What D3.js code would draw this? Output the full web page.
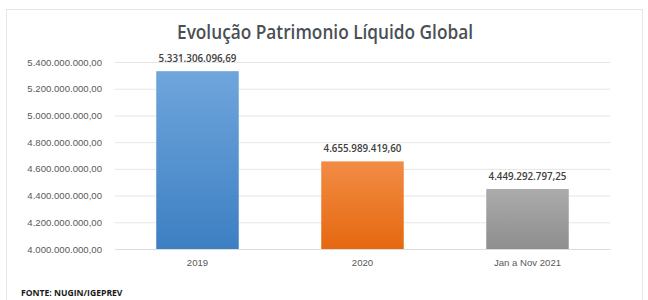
<!DOCTYPE html>
<html>
<head>
<meta charset="utf-8">
<script src="https://cdn.jsdelivr.net/npm/d3@7"></script>
<style>
  body { margin: 0; background: #fff; }
  svg { display: block; font-family: "Open Sans", sans-serif; }
</style>
</head>
<body>
<div id="chart"></div>
<script>
const categories = ["2019", "2020", "Jan a Nov 2021"];
const values = [5331306096.69, 4655989419.60, 4449292797.25];
const valueLabels = ["5.331.306.096,69", "4.655.989.419,60", "4.449.292.797,25"];
const yTicks = [4000000000, 4200000000, 4400000000, 4600000000, 4800000000, 5000000000, 5200000000, 5400000000];
const colors = [
  ["#6fa6dc", "#3d7fc3"],
  ["#f28c45", "#e5680f"],
  ["#ababab", "#8e8e8e"]
];

const width = 648, height = 300;
const margin = { top: 62, right: 38, bottom: 51, left: 115 };

const svg = d3.select("#chart").append("svg")
  .attr("width", width)
  .attr("height", height);

// gradients for bars
const defs = svg.append("defs");
colors.forEach((c, i) => {
  const g = defs.append("linearGradient")
    .attr("id", "grad" + i)
    .attr("x1", 0).attr("y1", 0).attr("x2", 0).attr("y2", 1);
  g.append("stop").attr("offset", "0%").attr("stop-color", c[0]);
  g.append("stop").attr("offset", "100%").attr("stop-color", c[1]);
});

// frame
svg.append("rect")
  .attr("x", 6.5).attr("y", 9.5)
  .attr("width", 636).attr("height", 300)
  .attr("fill", "none")
  .attr("stroke", "#e6e6e6");

const x = d3.scaleBand()
  .domain(categories)
  .range([margin.left, width - margin.right])
  .paddingInner(0.5)
  .paddingOuter(0.25);

const y = d3.scaleLinear()
  .domain([4000000000, 5400000000])
  .range([height - margin.bottom, margin.top]);

const fmt = d => d3.format(",.2f")(d).replace(/,/g, "#").replace(".", ",").replace(/#/g, ".");

// y axis with gridlines
const yAxis = svg.append("g")
  .attr("transform", `translate(${margin.left},0)`)
  .call(d3.axisLeft(y).tickValues(yTicks).tickFormat(fmt)
    .tickSize(-(width - margin.left - margin.right)).tickPadding(13));
yAxis.select(".domain").remove();
yAxis.selectAll(".tick line").attr("stroke", "#e6e6e6");
yAxis.selectAll(".tick text")
  .attr("fill", "#595959")
  .attr("font-size", "9.6px");

// x axis
const xAxis = svg.append("g")
  .attr("transform", `translate(0,${height - margin.bottom})`)
  .call(d3.axisBottom(x).tickSize(0).tickPadding(10));
xAxis.select(".domain").attr("stroke", "#dcdcdc");
xAxis.selectAll(".tick text")
  .attr("fill", "#595959")
  .attr("font-size", "9.6px");

// bars
svg.selectAll(".bar")
  .data(values)
  .enter()
  .append("rect")
  .attr("x", (d, i) => x(categories[i]))
  .attr("y", d => y(d))
  .attr("width", x.bandwidth())
  .attr("height", d => y(4000000000) - y(d))
  .attr("fill", (d, i) => `url(#grad${i})`);

// value labels
svg.selectAll(".val")
  .data(values)
  .enter()
  .append("text")
  .attr("x", (d, i) => x(categories[i]) + x.bandwidth() / 2)
  .attr("y", d => y(d) - 9)
  .attr("text-anchor", "middle")
  .attr("fill", "#404040")
  .attr("font-size", "9.8px")
  .attr("font-weight", "600")
  .text((d, i) => valueLabels[i]);

// title
svg.append("text")
  .attr("x", 325)
  .attr("y", 39)
  .attr("text-anchor", "middle")
  .attr("fill", "#4a4f55")
  .attr("font-size", "19px")
  .attr("font-weight", "600")
  .attr("textLength", 296)
  .attr("lengthAdjust", "spacingAndGlyphs")
  .text("Evolução Patrimonio Líquido Global");

// source
svg.append("text")
  .attr("x", 21)
  .attr("y", 296)
  .attr("fill", "#1a1a1a")
  .attr("font-size", "8.6px")
  .attr("font-weight", "700")
  .text("FONTE: NUGIN/IGEPREV");
</script>
</body>
</html>
